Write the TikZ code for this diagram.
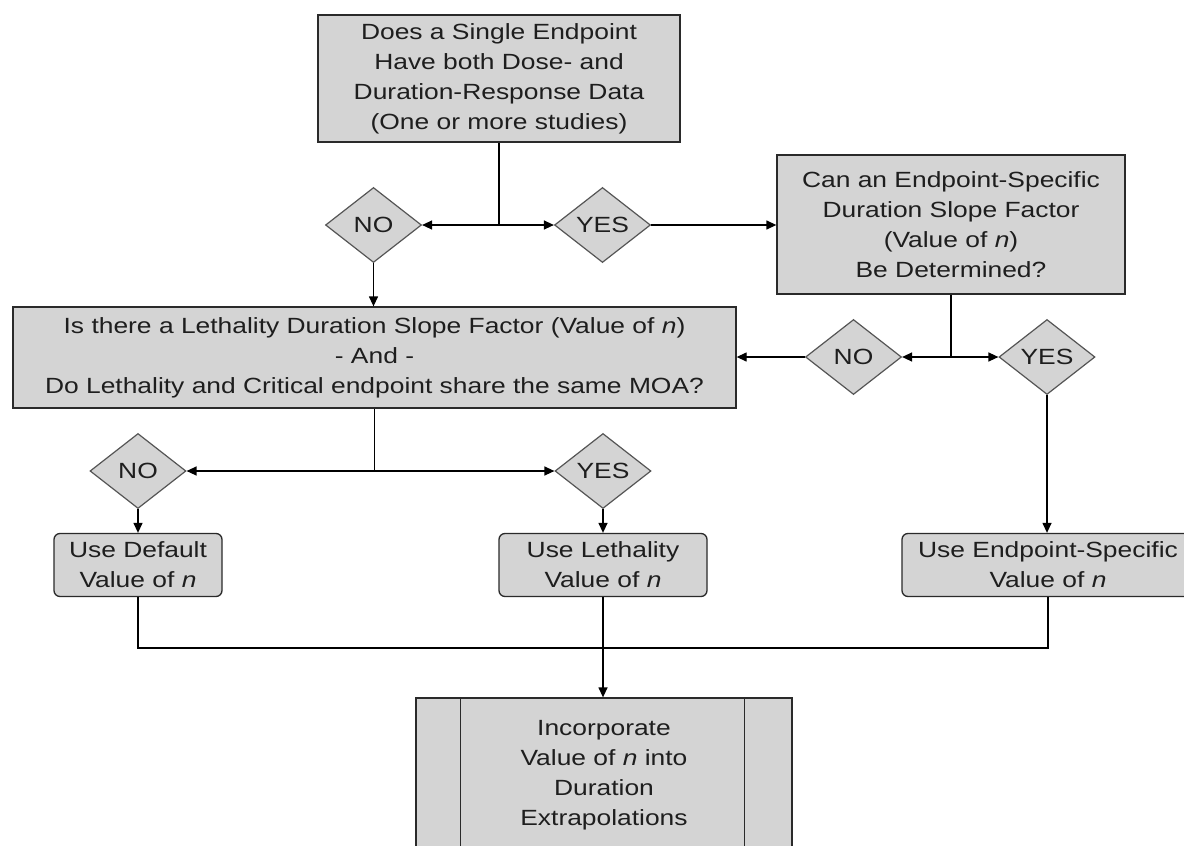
\documentclass[tikz,border=0pt]{standalone}
\usepackage{fontspec}
\setmainfont{Liberation Sans}[FakeStretch=1.2]
\usetikzlibrary{arrows.meta,shapes.geometric}
\definecolor{boxfill}{HTML}{D4D4D4}
\definecolor{boxline}{HTML}{2A2A2A}
\definecolor{dialine}{HTML}{555555}
\definecolor{txt}{HTML}{1E1E1E}
\tikzset{
  every node/.style={font=\fontsize{22}{30}\selectfont, text=txt},
  procbox/.style={draw=boxline, fill=boxfill, line width=1.3pt, inner sep=0pt, align=center},
  roundbox/.style={procbox, rounded corners=6pt},
  choice/.style={diamond, draw=dialine, fill=boxfill, line width=1.2pt, inner sep=0pt,
    minimum width=96pt, minimum height=75pt},
  link/.style={draw=black, line width=1.3pt},
  arrowlink/.style={link, -{Triangle[length=10pt,width=9pt]}},
}
\begin{document}
\begin{tikzpicture}[x=1pt,y=-1pt]
\clip (0,0) rectangle (1184,846);
\fill[white] (0,0) rectangle (1184,846);

% boxes
\node[procbox, minimum width=362pt, minimum height=127pt] (top) at (499,78.5)
  {Does a Single Endpoint\\Have both Dose- and\\Duration-Response Data\\(One or more studies)};
\node[procbox, minimum width=348pt, minimum height=139pt] (rbox) at (951,224.5)
  {Can an Endpoint-Specific\\Duration Slope Factor\\(Value of \textit{n})\\Be Determined?};
\node[procbox, minimum width=723pt, minimum height=101pt] (mbox) at (374.5,357.5)
  {Is there a Lethality Duration Slope Factor (Value of \textit{n})\\- And -\\Do Lethality and Critical endpoint share the same MOA?};

% decisions
\node[choice] (no1) at (373.5,225) {NO};
\node[choice] (yes1) at (602.5,225) {YES};
\node[choice] (no2) at (853.5,357) {NO};
\node[choice] (yes2) at (1047,357) {YES};
\node[choice] (no3) at (138,471) {NO};
\node[choice] (yes3) at (603,471) {YES};

% result boxes
\node[roundbox, minimum width=168pt, minimum height=63pt] (b1) at (138,565)
  {Use Default\\Value of \textit{n}};
\node[roundbox, minimum width=208pt, minimum height=63pt] (b2) at (603,565)
  {Use Lethality\\Value of \textit{n}};
\node[roundbox, minimum width=292pt, minimum height=63pt] (b3) at (1048,565)
  {Use Endpoint-Specific\\Value of \textit{n}};

% final predefined process box (cut off by the page edge)
\node[procbox, minimum width=376pt, minimum height=190pt] (fin) at (604,793) {};
\draw[draw=boxline, line width=1.3pt] ([xshift=45pt]fin.north west) -- ([xshift=45pt]fin.south west);
\draw[draw=boxline, line width=1.3pt] ([xshift=-48pt]fin.north east) -- ([xshift=-48pt]fin.south east);
\node[align=center] (finlabel) at (604,775)
  {Incorporate\\Value of \textit{n} into\\Duration\\Extrapolations};

% junctions
\coordinate (j1) at (top.south |- no1.east);
\coordinate (j2) at (rbox.south |- no2.east);
\coordinate (j3) at (mbox.south |- no3.east);
\coordinate (jl) at (b1.south |- 0,648);
\coordinate (jr) at (b3.south |- 0,648);

% connectors
\draw[link] (top.south) -- (j1);
\draw[arrowlink] (j1) -- (no1.east);
\draw[arrowlink] (j1) -- (yes1.west);
\draw[arrowlink] (yes1.east) -- (rbox.west |- yes1.east);
\draw[arrowlink] (no1.south) -- (no1.south |- mbox.north);

\draw[link] (rbox.south) -- (j2);
\draw[arrowlink] (j2) -- (no2.east);
\draw[arrowlink] (j2) -- (yes2.west);
\draw[arrowlink] (no2.west) -- (mbox.east |- no2.west);

\draw[link] (mbox.south) -- (j3);
\draw[arrowlink] (j3) -- (no3.east);
\draw[arrowlink] (j3) -- (yes3.west);

\draw[arrowlink] (no3.south) -- (b1.north);
\draw[arrowlink] (yes3.south) -- (b2.north);
\draw[arrowlink] (yes2.south) -- (yes2.south |- b3.north);

\draw[link] (b1.south) -- (jl) -- (jr) -- (b3.south);
\draw[arrowlink] (b2.south) -- (b2.south |- fin.north);
\end{tikzpicture}
\end{document}
